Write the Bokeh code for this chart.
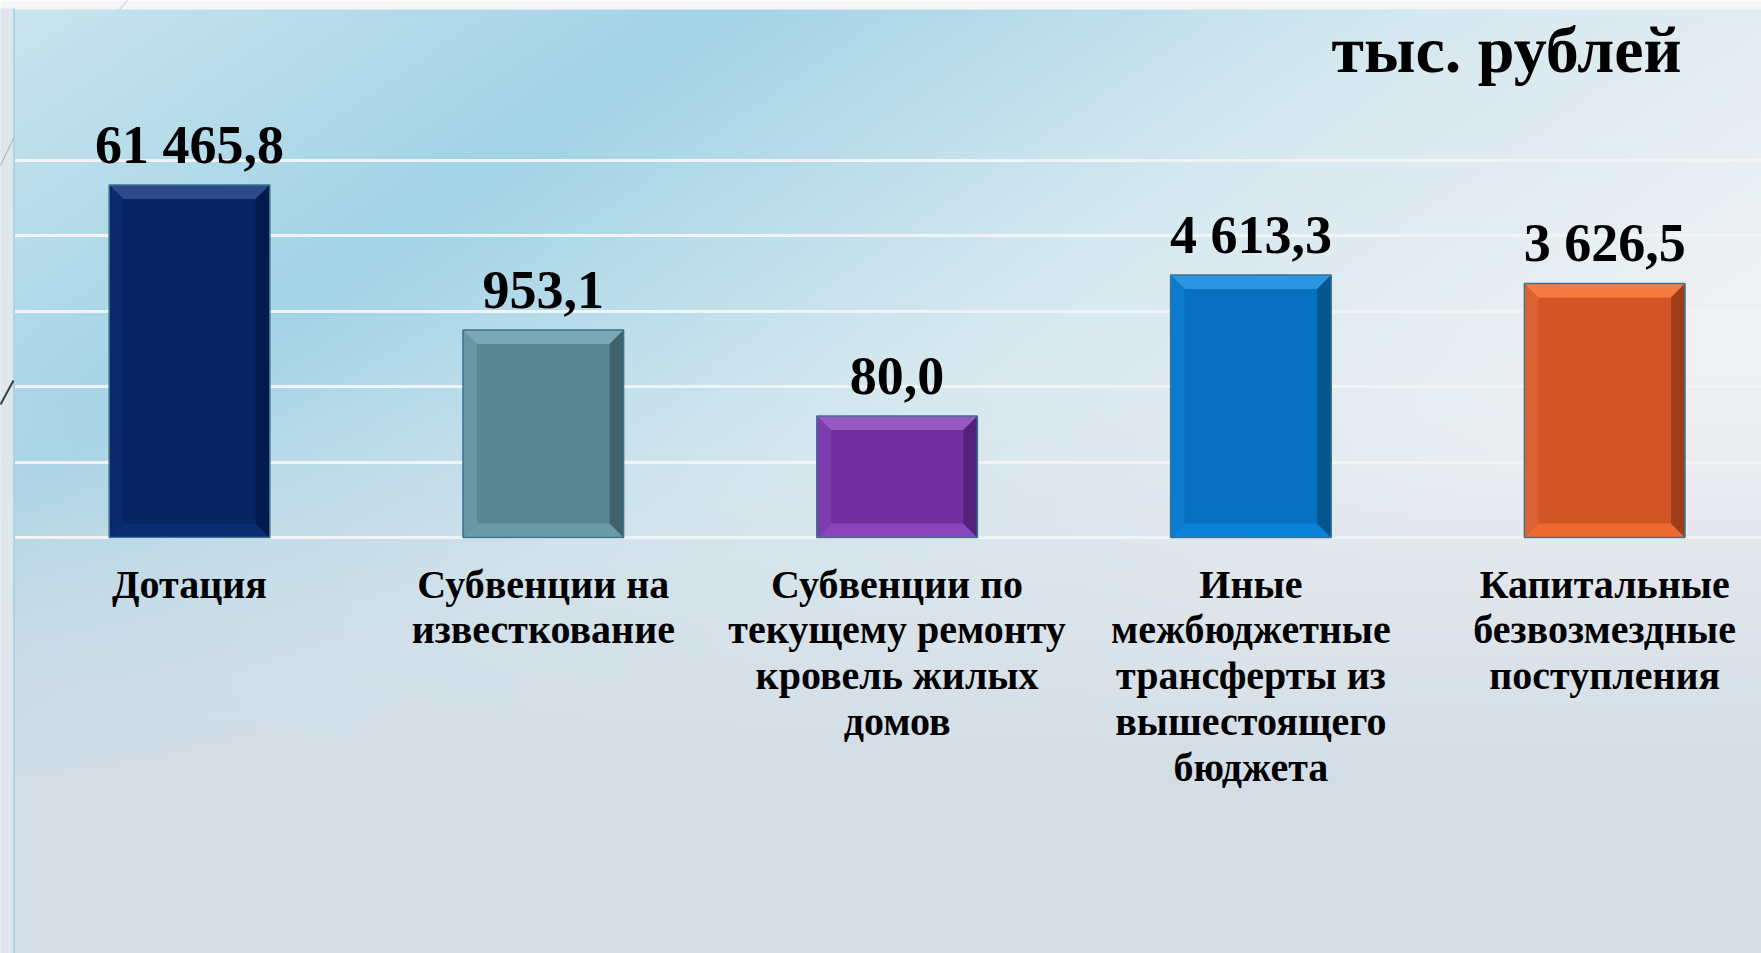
import numpy as np
from bokeh.plotting import figure
from bokeh.models import Range1d, LinearScale, Grid, FixedTicker, ColumnDataSource
from bokeh.core.properties import value
from bokeh.embed import file_html
from bokeh.resources import INLINE

# ---------------- data ----------------
categories = [
    "Дотация",
    "Субвенции на\nизвесткование",
    "Субвенции по\nтекущему ремонту\nкровель жилых\nдомов",
    "Иные\nмежбюджетные\nтрансферты из\nвышестоящего\nбюджета",
    "Капитальные\nбезвозмездные\nпоступления",
]
values = [61465.8, 953.1, 80.0, 4613.3, 3626.5]
unit_label = "тыс. рублей"

# ---------------- styles ----------------
bar_colors = ["#072463", "#5a8793", "#7030a0", "#0871bf", "#d25625"]
bevel_top = ["#2a4b87", "#7ba8b2", "#9a58c2", "#2a95e0", "#f47c42"]
bevel_left = ["#0b2a6b", "#6a97a2", "#7c3dad", "#0c7bcb", "#dc6233"]
bevel_right = ["#031a4c", "#3f636d", "#52217b", "#05558f", "#9c3e1a"]
bevel_bottom = ["#0a2d72", "#6b9ba7", "#8a45bd", "#0a82d8", "#ec6a30"]

W, H = 1761, 953
BASE_Y = 537            # screen y of the category baseline
PX_PER_DECADE = 80.1    # log-scale pixels per decade
BASE_VAL = 2.44         # value at baseline
SLOT_PX = 353.8
FIRST_CENTER_PX = 189
BAR_W = 160.6 / SLOT_PX
GRID_STEP_PX = 75.4
BEVEL_PX = 14

def fmt(v):
    return f"{v:,.1f}".replace(",", " ").replace(".", ",")

x_range = Range1d(-FIRST_CENTER_PX / SLOT_PX, (W - FIRST_CENTER_PX) / SLOT_PX)
y_lo = BASE_VAL * 10 ** (-(H - BASE_Y) / PX_PER_DECADE)
y_hi = BASE_VAL * 10 ** (BASE_Y / PX_PER_DECADE)

p = figure(width=W, height=H, x_range=x_range, y_range=Range1d(y_lo, y_hi),
           y_axis_type="log", x_axis_location=None, y_axis_location=None,
           output_backend="svg", toolbar_location=None, min_border=0,
           outline_line_color=None, border_fill_color="#f4f6f8")
p.grid.visible = False

p.extra_x_ranges = {"px": Range1d(0, W)}
p.extra_y_ranges = {"px": Range1d(0, H)}
p.extra_x_scales = {"px": LinearScale()}
p.extra_y_scales = {"px": LinearScale()}

# ---------------- background gradient ----------------
Hh, Ww = 318, 587
ys = (np.arange(Hh) + 0.5) * H / Hh
xs = (np.arange(Ww) + 0.5) * W / Ww
X, Y = np.meshgrid(xs, ys)
d = X / 730.0 + Y / 505.0
sd = [0, 1, 2, 3]
cr = [0xcb, 0xa3, 0xd6, 0xf0]
cg = [0xe5, 0xd3, 0xe9, 0xf1]
cb = [0xef, 0xe6, 0xf0, 0xf3]
r = np.interp(d, sd, cr)
g = np.interp(d, sd, cg)
b = np.interp(d, sd, cb)
wb = np.clip((Y - 300) / 550.0, 0, 1)
wb = wb * wb * (3 - 2 * wb)
r = r * (1 - wb) + 0xd3 * wb
g = g * (1 - wb) + 0xdd * wb
b = b * (1 - wb) + 0xe6 * wb
top = Y < 8.5
r[top], g[top], b[top] = 0xf4, 0xf6, 0xf8
img = np.empty((Hh, Ww), dtype=np.uint32)
view = img.view(dtype=np.uint8).reshape((Hh, Ww, 4))
view[..., 0] = r.astype(np.uint8)
view[..., 1] = g.astype(np.uint8)
view[..., 2] = b.astype(np.uint8)
view[..., 3] = 255
img = np.ascontiguousarray(img[::-1])
p.image_rgba(image=[img], x=0, y=0, dw=W, dh=H, x_range_name="px",
             y_range_name="px", level="image")

# ---------------- grid ----------------
grid_ticks = [BASE_VAL * 10 ** (k * GRID_STEP_PX / PX_PER_DECADE) for k in range(6)]
p.add_layout(Grid(dimension=1, ticker=FixedTicker(ticks=grid_ticks),
                  grid_line_color="#f1f4f6", grid_line_width=3))

# ---------------- bars ----------------
idx = list(range(len(values)))
src = ColumnDataSource(dict(
    left=[i - BAR_W / 2 for i in idx], right=[i + BAR_W / 2 for i in idx],
    top=values, color=bar_colors))
p.quad(left="left", right="right", bottom=BASE_VAL, top="top",
       fill_color="color", line_color=None, source=src)

dx = BEVEL_PX / SLOT_PX
fy = 10 ** (BEVEL_PX / PX_PER_DECADE)
pxs, pys, pcol = [], [], []
for i, v in enumerate(values):
    l, rr = i - BAR_W / 2, i + BAR_W / 2
    t, bt = v, BASE_VAL
    ti, bi = t / fy, bt * fy
    pxs += [[l, rr, rr - dx, l + dx], [l, rr, rr - dx, l + dx],
            [l, l, l + dx, l + dx], [rr, rr, rr - dx, rr - dx]]
    pys += [[t, t, ti, ti], [bt, bt, bi, bi], [bt, t, ti, bi], [bt, t, ti, bi]]
    pcol += [bevel_top[i], bevel_bottom[i], bevel_left[i], bevel_right[i]]
p.patches(xs=pxs, ys=pys, fill_color=pcol, line_color=None)
p.quad(left="left", right="right", bottom=BASE_VAL, top="top",
       fill_color=None, line_color="#3b7391", line_width=1.5, source=src)

# ---------------- labels ----------------
p.text(x=idx, y=values, text=[fmt(v) for v in values], text_align="center",
       text_baseline="alphabetic", y_offset=-40,
       text_font=value("Liberation Serif"), text_font_style="bold",
       text_font_size="54px", text_color="black")

p.text(x=idx, y=[BASE_VAL] * len(idx), text=categories, text_align="center",
       text_baseline="top", y_offset=24, text_line_height=1.02,
       text_font=value("Liberation Serif"), text_font_style="bold",
       text_font_size="40px", text_color="black")

p.text(x=[1681], y=[H - 49], text=[unit_label], x_range_name="px",
       y_range_name="px", text_align="right", text_baseline="alphabetic",
       text_font=value("Liberation Serif"), text_font_style="bold",
       text_font_size="66px", text_color="black")

# ---------------- slide decorations ----------------
p.quad(left=0, right=13, bottom=0, top=H - 8, x_range_name="px", y_range_name="px",
       fill_color="#dfe6ee", line_color=None, level="guide")
p.segment(x0=[13.5], y0=[0], x1=[13.5], y1=[H - 8], x_range_name="px",
          y_range_name="px", line_color="#a9d4e5", line_width=2, level="guide")
p.segment(x0=[0, 0, 119], y0=[H - 165, H - 404, H - 9], x1=[13, 13, 127],
          y1=[H - 138, H - 380, H], x_range_name="px", y_range_name="px",
          line_color=["#a0a8b2", "#3a3f48", "#b8c0c8"], line_width=[1, 2, 1],
          level="guide")

open("out.html", "w").write(file_html(p, INLINE))
